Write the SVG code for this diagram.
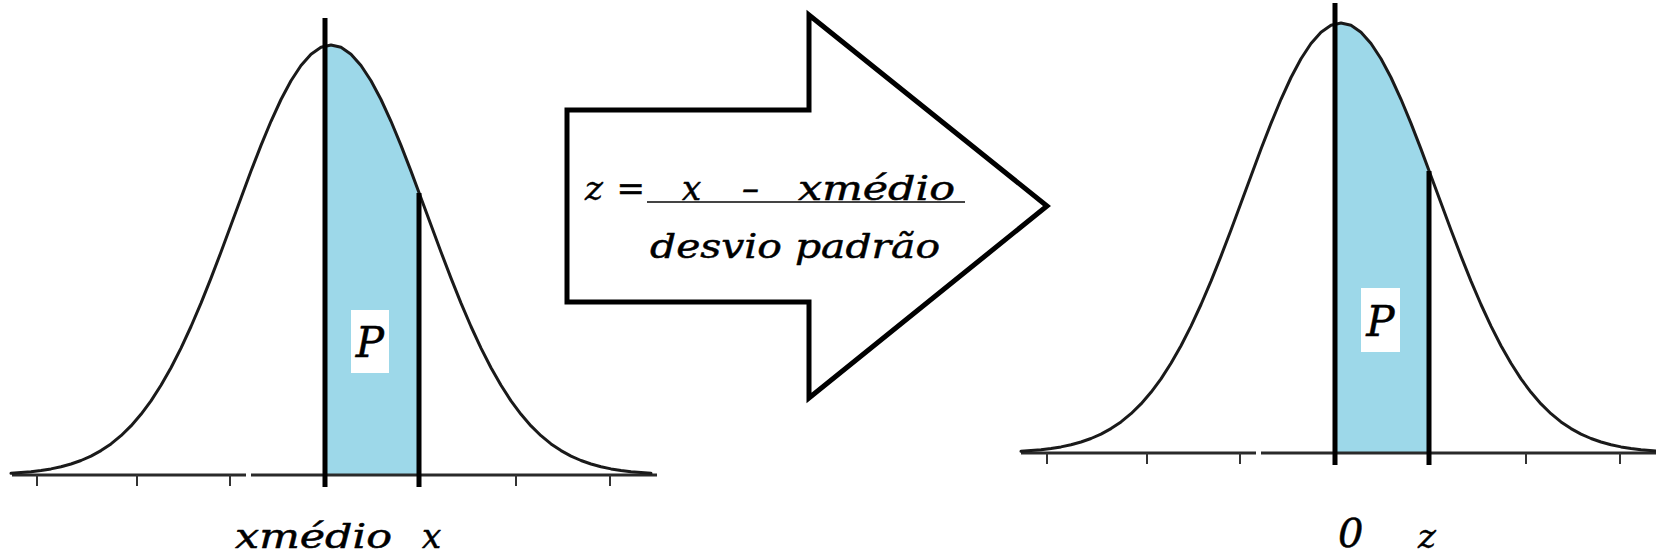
<svg xmlns="http://www.w3.org/2000/svg" width="1656" height="555" viewBox="0 0 1656 555">
<style>
.hand{font-family:"DejaVu Serif","Liberation Serif",serif;font-style:italic;fill:#000;stroke:#000;stroke-width:0.5;stroke-linejoin:round}
.curve{fill:none;stroke:#1a1a1a;stroke-width:3;stroke-linejoin:round;stroke-linecap:round}
.area{fill:#9dd8e9;stroke:none}
.axis{stroke:#2a2a2a;stroke-width:3;fill:none}
.tick{stroke:#333;stroke-width:2}
.vline{stroke:#000;stroke-width:5}
.pbox{fill:#fff}
</style>
<defs>
<path id="bell" class="curve" d="M-320,473.3 L-300,471.7 L-290,470.5 L-280,468.9 L-270,466.8 L-260,464 L-250,460.5 L-240,456.1 L-230,450.6 L-220,443.9 L-210,435.7 L-200,425.9 L-190,414.3 L-180,400.9 L-170,385.3 L-160,367.8 L-150,348.1 L-140,326.5 L-130,303.1 L-120,278.1 L-110,252 L-100,225.1 L-90,197.9 L-80,171.1 L-70,145.4 L-60,121.3 L-50,99.5 L-40,80.8 L-30,65.5 L-20,54.2 L-10,47.3 L0,45 L10,47.3 L20,54.2 L30,65.5 L40,80.8 L50,99.5 L60,121.3 L70,145.4 L80,171.1 L90,197.9 L100,225.1 L110,252 L120,278.1 L130,303.1 L140,326.5 L150,348.1 L160,367.8 L170,385.3 L180,400.9 L190,414.3 L200,425.9 L210,435.7 L220,443.9 L230,450.6 L240,456.1 L250,460.5 L260,464 L270,466.8 L280,468.9 L290,470.5 L300,471.7 L320,473.3"/>
<path id="shade" class="area" d="M-6,475 L-6,45.8 L0,45 L10,47.3 L20,54.2 L30,65.5 L40,80.8 L50,99.5 L60,121.3 L70,145.4 L80,171.1 L88,192.5 L88,475 Z"/>
<g id="ticks">
<line class="tick" x1="-294" y1="475" x2="-294" y2="486"/>
<line class="tick" x1="-194" y1="475" x2="-194" y2="486"/>
<line class="tick" x1="-101" y1="475" x2="-101" y2="486"/>
<line class="tick" x1="185" y1="475" x2="185" y2="486"/>
<line class="tick" x1="279" y1="475" x2="279" y2="486"/>
</g>
</defs>

<g id="left-chart" transform="translate(331,0)">
<use href="#shade"/>
<line class="axis" x1="-319" y1="475" x2="-85" y2="475"/>
<line class="axis" x1="-80" y1="475" x2="326" y2="475"/>
<use href="#ticks"/>
<use href="#bell"/>
<line class="vline" x1="-6" y1="18" x2="-6" y2="487"/>
<line class="vline" x1="88" y1="193" x2="88" y2="487"/>
<rect class="pbox" x="20" y="310" width="38" height="63"/>
<text class="hand" x="39" y="357" font-size="42" text-anchor="middle">P</text>
</g>
<g id="left-labels">
<text class="hand" x="235" y="548" font-size="34" textLength="157" lengthAdjust="spacingAndGlyphs">xmédio</text>
<text class="hand" x="422" y="548" font-size="34">x</text>
</g>

<g id="arrow">
<polygon points="567,110 809,110 809,15 1047,206 809,398 809,302 567,302" fill="#fff" stroke="#000" stroke-width="5"/>
<text class="hand" x="585" y="200" font-size="34" textLength="60" lengthAdjust="spacing">z =</text>
<text class="hand" x="682" y="200" font-size="34">x</text>
<text class="hand" x="742" y="200" font-size="34">–</text>
<text class="hand" x="798" y="200" font-size="34" textLength="157" lengthAdjust="spacingAndGlyphs">xmédio</text>
<line x1="647" y1="202" x2="965" y2="202" stroke="#444" stroke-width="2"/>
<text class="hand" x="650" y="258" font-size="34" textLength="290" lengthAdjust="spacingAndGlyphs">desvio padrão</text>
</g>

<g id="right-chart" transform="translate(1341,-22)">
<use href="#shade"/>
<line class="axis" x1="-320" y1="475" x2="-85" y2="475"/>
<line class="axis" x1="-80" y1="475" x2="316" y2="475"/>
<use href="#ticks"/>
<use href="#bell"/>
<line class="vline" x1="-6" y1="25" x2="-6" y2="487"/>
<line class="vline" x1="88" y1="193" x2="88" y2="487"/>
<rect class="pbox" x="20" y="310" width="39" height="64"/>
<text class="hand" x="39.5" y="358" font-size="42" text-anchor="middle">P</text>
</g>
<g id="right-labels">
<text class="hand" x="1338" y="547" font-size="40">0</text>
<text class="hand" x="1418" y="548" font-size="34">z</text>
</g>
</svg>
